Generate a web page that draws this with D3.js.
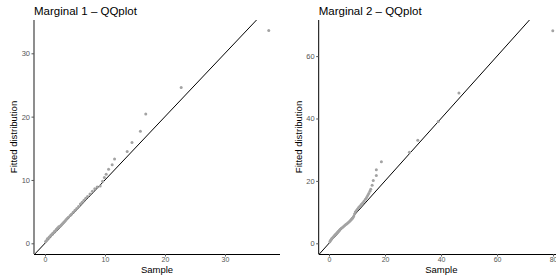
<!DOCTYPE html>
<meta charset="utf-8">
<head>
  <title>QQplots</title>
</head>
<style>
  body { margin: 0; background: #fff; }
  text { font-family: "Liberation Sans", Arial, sans-serif; }
</style>
<body>
  <div id="chart"></div>
  <script src="https://d3js.org/d3.v7.min.js"></script>
  <script>

  // Marginal 1: sample quantiles vs fitted quantiles
  var sample1 = [0.1,0.3,0.4,0.6,0.7,0.9,1.0,1.2,1.3,1.5,1.6,1.8,1.9,2.1,2.3,2.5,2.7,2.9,3.1,3.3,3.5,3.7,3.9,4.2,4.4,4.7,5.0,5.3,5.6,5.9,6.2,6.5,6.8,7.1,7.5,7.9,8.3,8.7,9.2,9.6,9.9,10.2,10.6,11.2,11.6,13.7,14.5,15.9,16.8,22.7,37.3];
  var fitted1 = [0.3,0.5,0.7,0.8,1.0,1.1,1.3,1.4,1.6,1.7,1.9,2.0,2.2,2.4,2.6,2.7,2.9,3.1,3.3,3.5,3.7,3.9,4.1,4.4,4.6,4.9,5.2,5.5,5.8,6.2,6.5,6.8,7.1,7.4,7.8,8.2,8.6,8.9,9.05,9.8,10.4,10.9,11.7,12.4,13.3,14.5,15.9,17.7,20.4,24.6,33.6];
  var xTicks1 = [0, 10, 20, 30];
  var yTicks1 = [0, 10, 20, 30];

  // Marginal 2
  var sample2 = [0.3,0.5,0.8,1.0,1.3,1.6,1.9,2.2,2.5,2.8,3.1,3.4,3.7,4.0,4.4,4.8,5.2,5.6,6.0,6.4,6.8,7.2,7.6,8.0,8.4,8.8,9.1,9.4,9.8,10.2,10.6,11.0,11.5,12.0,12.5,13.0,13.4,13.8,14.2,14.6,14.9,15.4,15.8,16.9,16.9,18.7,28.7,31.7,39.0,46.4,79.9];
  var fitted2 = [0.5,0.9,1.2,1.5,1.8,2.1,2.4,2.7,3.0,3.3,3.6,3.9,4.2,4.5,4.8,5.1,5.4,5.7,6.0,6.3,6.6,6.9,7.2,7.6,8.0,8.6,9.4,10.0,10.5,11.0,11.5,11.9,12.4,12.9,13.5,14.1,14.7,15.3,16.0,16.7,17.3,18.6,20.1,21.7,23.6,26.1,29.2,33.0,39.0,48.2,68.1];
  var xTicks2 = [0, 20, 40, 60, 80];
  var yTicks2 = [0, 20, 40, 60];

  var panels = [
    {title: "Marginal 1 \u2013 QQplot", xs: sample1, ys: fitted1, xTicks: xTicks1, yTicks: yTicks1,
     left: 34, right: 280, xDom: [-1.83, 39.17], yDom: [-1.69, 35.26], yAxisColor: "#7a7a7a", yAxisWidth: 1.7},
    {title: "Marginal 2 \u2013 QQplot", xs: sample2, ys: fitted2, xTicks: xTicks2, yTicks: yTicks2,
     left: 318.7, right: 564, xDom: [-3.68, 83.9], yDom: [-3.43, 71.57], yAxisColor: "#000", yAxisWidth: 1}
  ];

  var W = 556, H = 275, plotTop = 20, plotBottom = 254;

  var svg = d3.select("#chart").append("svg")
      .attr("width", W)
      .attr("height", H);

  panels.forEach(function(p) {
    var x = d3.scaleLinear().domain(p.xDom).range([p.left, p.right]);
    var y = d3.scaleLinear().domain(p.yDom).range([plotBottom, plotTop]);
    var g = svg.append("g");

    // y = x reference line, clipped to the panel
    var lo = Math.max(p.xDom[0], p.yDom[0]), hi = Math.min(p.xDom[1], p.yDom[1]);
    g.append("line")
        .attr("x1", x(lo)).attr("y1", y(lo))
        .attr("x2", x(hi)).attr("y2", y(hi))
        .attr("stroke", "#000").attr("stroke-width", 1);

    // points
    g.selectAll("circle")
        .data(p.xs)
        .enter()
        .append("circle")
          .attr("cx", function(d) { return x(d); })
          .attr("cy", function(d, i) { return y(p.ys[i]); })
          .attr("r", 1.5)
          .style("fill", "#a3a3a3");

    // x axis
    var xa = g.append("g")
        .attr("transform", "translate(0," + plotBottom + ")")
        .call(d3.axisBottom(x).tickValues(p.xTicks).tickSize(2.5).tickPadding(1));
    xa.select(".domain").attr("stroke", "#000").attr("stroke-width", 1)
        .attr("d", "M" + p.left + ",0.5H" + p.right);
    xa.selectAll(".tick line").attr("stroke", "#555");
    xa.selectAll(".tick text").attr("fill", "#555").style("font-size", "7px")
        .style("font-family", "Liberation Sans, Arial, sans-serif");

    // y axis
    var ya = g.append("g")
        .attr("transform", "translate(" + p.left + ",0)")
        .call(d3.axisLeft(y).tickValues(p.yTicks).tickSize(2.5).tickPadding(1.5));
    ya.select(".domain").attr("stroke", p.yAxisColor).attr("stroke-width", p.yAxisWidth)
        .attr("d", "M0," + plotTop + "V" + plotBottom);
    ya.selectAll(".tick line").attr("stroke", "#555");
    ya.selectAll(".tick text").attr("fill", "#555").style("font-size", "7.5px")
        .style("font-family", "Liberation Sans, Arial, sans-serif");

    // titles
    g.append("text")
        .attr("x", p.left).attr("y", 15)
        .text(p.title)
        .style("font-size", "11.5px").attr("fill", "#000");
    var plotRight = Math.min(p.right, p.left + 246);
    g.append("text")
        .attr("x", (p.left + plotRight) / 2).attr("y", 272.5)
        .attr("text-anchor", "middle")
        .text("Sample")
        .style("font-size", "9.5px");
    g.append("text")
        .attr("transform", "translate(" + (p.left - 17) + "," + ((plotTop + plotBottom) / 2) + ") rotate(-90)")
        .attr("text-anchor", "middle")
        .text("Fitted distribution")
        .style("font-size", "9.5px");
  });
  </script>
</body>
</html>
